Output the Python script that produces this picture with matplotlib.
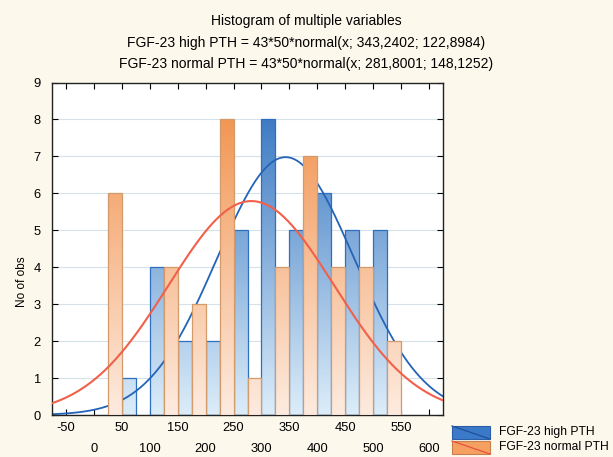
import numpy as np
import matplotlib.pyplot as plt
from matplotlib.colors import LinearSegmentedColormap
from matplotlib.patches import Rectangle
from matplotlib.lines import Line2D

plt.rcParams["font.family"] = ["Liberation Sans", "DejaVu Sans"]

# histogram bins (width 50) and counts
bin_starts = [0, 50, 100, 150, 200, 250, 300, 350, 400, 450, 500]
high_pth = [0, 1, 4, 2, 2, 5, 8, 5, 6, 5, 5]
normal_pth = [6, 0, 4, 3, 8, 1, 4, 7, 4, 4, 2]

# fitted normal curves, parameters from the title
n_obs = 43
bin_w = 50
high_fit = (343.2402, 122.8984)
normal_fit = (281.8001, 148.1252)

series_names = ["FGF-23 high PTH", "FGF-23 normal PTH"]
title_lines = ["Histogram of multiple variables",
               "FGF-23 high PTH = 43*50*normal(x; 343,2402; 122,8984)",
               "FGF-23 normal PTH = 43*50*normal(x; 281,8001; 148,1252)"]

bg = "#fdf8ec"
blue_cmap = LinearSegmentedColormap.from_list("b", ["#dcedf9", "#3a78c2"])
orange_cmap = LinearSegmentedColormap.from_list("o", ["#fdebdf", "#f29450"])

fig = plt.figure(figsize=(6.13, 4.57), dpi=100, facecolor=bg)
ax = fig.add_axes([52/613, 1-415/457, 391/613, 332.5/457])
ax.set_facecolor("white")


def grad_bar(x0, w, h, cmap, edge, z):
    if h <= 0:
        return
    g = np.linspace(0, h, 100).reshape(-1, 1)
    ax.imshow(g, extent=(x0, x0 + w, 0, h), origin="lower", cmap=cmap,
              vmin=0, vmax=8.3, aspect="auto", zorder=z, interpolation="bilinear")
    ax.add_patch(Rectangle((x0, 0), w, h, fill=False, edgecolor=edge,
                           linewidth=0.9, zorder=z + 0.1))


half = bin_w / 2
for b, hb, hn in zip(bin_starts, high_pth, normal_pth):
    grad_bar(b, half, hb, blue_cmap, "#2f6fc0", 2)
    grad_bar(b + half, half, hn, orange_cmap, "#d39a6c", 3)


def normal_curve(x, mu, sd):
    return n_obs * bin_w * np.exp(-0.5 * ((x - mu) / sd) ** 2) / (sd * np.sqrt(2 * np.pi))


xs = np.linspace(-75, 625, 400)
ax.plot(xs, normal_curve(xs, *high_fit), color="#2464b8", lw=1.3, zorder=2.5)
ax.plot(xs, normal_curve(xs, *normal_fit), color="#f0604a", lw=1.5, zorder=4)

ax.set_xlim(-75, 625)
ax.set_ylim(0, 9)
ax.set_yticks(range(10))
ax.grid(axis="y", color="#d5e2ec", lw=0.8, zorder=1)

xt = list(range(-50, 601, 50))
ax.set_xticks(xt)
ax.set_xticklabels([str(v) for v in xt])
for i, t in enumerate(ax.xaxis.get_major_ticks()):
    t.set_pad(5 if i % 2 == 0 else 20)

ax.tick_params(direction="in", top=True, right=True, length=4, width=0.8,
               labelsize=9.3, colors="black")
ax.tick_params(axis="y", pad=8)
for s in ax.spines.values():
    s.set_linewidth(1.0)
    s.set_color("#222222")

fig.text(22/613, 1-282/457, "No of obs", rotation=90, ha="center", va="center",
         fontsize=8.5)

for i, line in enumerate(title_lines):
    fig.text(0.5, 1-(21 + i*21.5)/457, line, ha="center", va="center",
             fontsize=10)

# legend drawn in figure pixel coords
leg = [("#3a7ac8", "#1f4f9a", "#2a5fa8"), ("#f5a060", "#e8503a", "#c88050")]
for i, (fc, lc, ec) in enumerate(leg):
    y0 = 426 + i*15
    fig.add_artist(Rectangle((452/613, 1-(y0+13)/457), 38/613, 13/457,
                             facecolor=fc, edgecolor=ec, lw=0.8,
                             transform=fig.transFigure))
    fig.add_artist(Line2D([452/613, 490/613], [1-y0/457, 1-(y0+13)/457],
                          color=lc, lw=0.9, transform=fig.transFigure))
    fig.text(499/613, 1-(y0+6.5)/457, series_names[i], ha="left", va="center",
             fontsize=8.7)

fig.savefig("out.png", dpi=100, facecolor=bg)
